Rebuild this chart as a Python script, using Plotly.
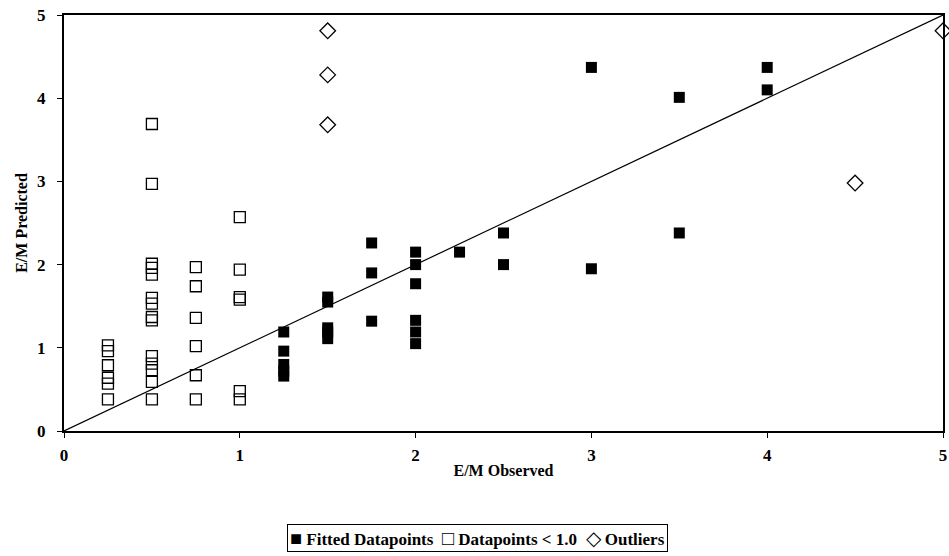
import plotly.graph_objects as go

# Fitted datapoints
fit_x = [1.25, 1.25, 1.25, 1.25, 1.25,
         1.5, 1.5, 1.5, 1.5, 1.5,
         1.75, 1.75, 1.75,
         2, 2, 2, 2, 2, 2,
         2.25, 2.5, 2.5,
         3, 3, 3.5, 3.5, 4, 4]
fit_y = [1.19, 0.96, 0.80, 0.72, 0.66,
         1.61, 1.55, 1.24, 1.19, 1.11,
         2.26, 1.90, 1.32,
         2.15, 2.00, 1.77, 1.33, 1.19, 1.05,
         2.15, 2.38, 2.00,
         4.37, 1.95, 4.01, 2.38, 4.37, 4.10]

# Datapoints < 1.0
low_x = [0.25, 0.25, 0.25, 0.25, 0.25, 0.25,
         0.5, 0.5, 0.5, 0.5, 0.5, 0.5, 0.5, 0.5, 0.5, 0.5, 0.5, 0.5, 0.5, 0.5,
         0.75, 0.75, 0.75, 0.75, 0.75, 0.75,
         1, 1, 1, 1, 1, 1]
low_y = [1.03, 0.96, 0.79, 0.64, 0.57, 0.38,
         3.69, 2.97, 2.01, 1.96, 1.88, 1.60, 1.53, 1.37, 1.33, 0.90, 0.81, 0.73, 0.59, 0.38,
         1.97, 1.74, 1.36, 1.02, 0.67, 0.38,
         2.57, 1.94, 1.61, 1.58, 0.48, 0.38]

# Outliers
out_x = [1.5, 1.5, 1.5, 4.5, 5]
out_y = [4.81, 4.28, 3.68, 2.98, 4.81]

# Reference line y = x
line_x = [0, 5]
line_y = [0, 5]

# Tick labels
tick_vals = [0, 1, 2, 3, 4, 5]
tick_text = ["0", "1", "2", "3", "4", "5"]

# Legend entries (glyph, label)
legend_glyphs = ["\u25A0", "\u25A1", "\u25C7"]
legend_labels = ["Fitted Datapoints", "Datapoints &lt; 1.0", "Outliers"]

font_family = "Liberation Serif"

fig = go.Figure()
fig.add_trace(go.Scatter(x=line_x, y=line_y, mode="lines",
                         line=dict(color="black", width=1.2),
                         showlegend=False, hoverinfo="skip", cliponaxis=False))
fig.add_trace(go.Scatter(x=fit_x, y=fit_y, mode="markers", name="Fitted Datapoints",
                         marker=dict(symbol="square", size=11, color="black",
                                     line=dict(width=0)), cliponaxis=False))
fig.add_trace(go.Scatter(x=low_x, y=low_y, mode="markers", name="Datapoints < 1.0",
                         marker=dict(symbol="square-open", size=11, color="black",
                                     line=dict(width=1.3)), cliponaxis=False))
fig.add_trace(go.Scatter(x=out_x, y=out_y, mode="markers", name="Outliers",
                         marker=dict(symbol="diamond-open", size=12, color="black",
                                     line=dict(width=1.3)), cliponaxis=False))

axis_common = dict(showgrid=False, zeroline=False, showline=True, linecolor="black",
                   linewidth=2, mirror=True, ticks="outside", ticklen=5,
                   tickcolor="black", tickwidth=1, automargin=False,
                   tickvals=tick_vals,
                   ticktext=["<b>" + t + "</b>" for t in tick_text],
                   tickfont=dict(family=font_family, size=17, color="black"))

fig.update_xaxes(range=[0, 5],
                 ticklabelstandoff=3,
                 title=dict(text="<b>E/M Observed</b>",
                            font=dict(family=font_family, size=16, color="black"),
                            standoff=0),
                 **axis_common)
fig.update_yaxes(range=[0, 5],
                 ticklabelstandoff=8,
                 title=dict(text="<b>E/M Predicted</b>",
                            font=dict(family=font_family, size=16, color="black"),
                            standoff=5),
                 **axis_common)

sep = "&nbsp;&nbsp;"
legend_text = sep.join('<span style="font-size:20px">' + g + "</span>&nbsp;<b>" + l + "</b>"
                       for g, l in zip(legend_glyphs, legend_labels))

fig.update_layout(
    width=949, height=556,
    margin=dict(l=64, r=6, t=15, b=125, autoexpand=False),
    plot_bgcolor="white", paper_bgcolor="white",
    font=dict(family=font_family, color="black"),
    showlegend=False,
    annotations=[dict(text=legend_text, xref="paper", yref="paper",
                      x=(477 - 64) / 879, y=-(538 - 431) / 416,
                      xanchor="center", yanchor="middle", showarrow=False,
                      font=dict(family=font_family, size=17, color="black"),
                      bordercolor="black", borderwidth=1, borderpad=2,
                      bgcolor="white")],
)

fig.write_html("out.html",
               config={"displayModeBar": False},
               post_script="document.body.style.margin='0';document.body.style.overflow='hidden';")
